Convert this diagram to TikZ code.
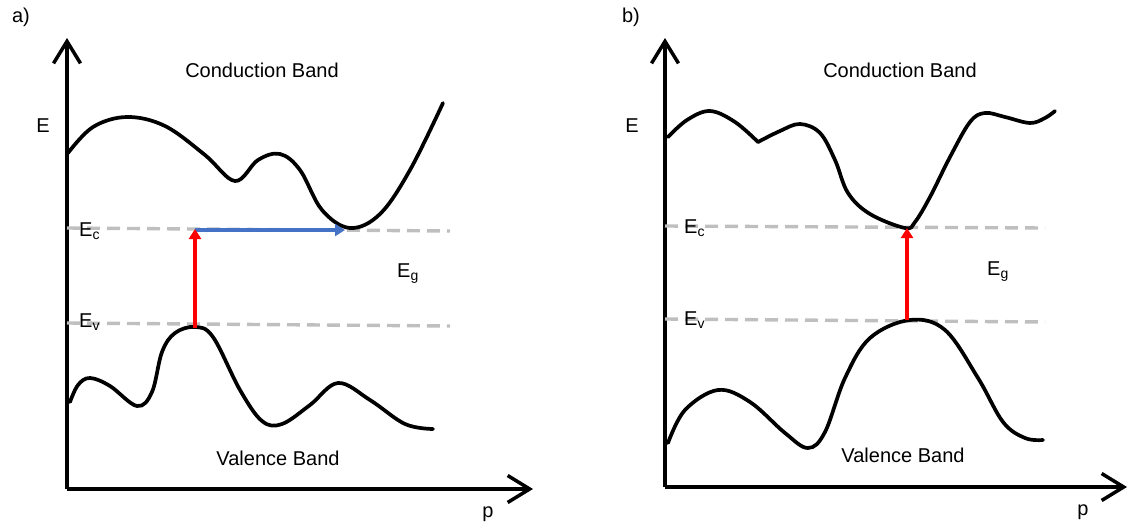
\documentclass[tikz,border=0pt]{standalone}
\usepackage{fontspec}
\setmainfont{Liberation Sans}
\usetikzlibrary{arrows.meta,positioning,calc}
\definecolor{bandblue}{RGB}{68,114,196}
\tikzset{
  axisarr/.style={-{Straight Barb[length=22pt,width=27pt]}, line width=3.5pt},
  bandline/.style={line width=3.7pt, line join=round, line cap=round},
  levelline/.style={draw=gray!50, line width=3.4pt, dash pattern=on 13pt off 7pt},
  gaparr/.style={-{Triangle[length=10pt,width=12pt]}, line width=3.6pt},
  lbl/.style={inner sep=0pt, font=\fontsize{20}{24}\selectfont},
}

\begin{document}
\begin{tikzpicture}[x=1pt, y=-1pt]
  \useasboundingbox (0,0) rectangle (1136,525);

  % panel a
  \coordinate (ao) at (67,489);
  \node[lbl] (alabel) at (21,17) {a)};
  \draw[axisarr] (ao) -- (67,38) coordinate (aetop);
  \draw[axisarr] (ao) -- (533,489) coordinate (aptip);
  \node[lbl] (aE) at (43,126) {E};
  \node[lbl] (ap) at (488,514) {p};
  \node[lbl] (acb) at (262,70) {Conduction Band};
  \node[lbl] (avb) at (278,458) {Valence Band};
  \draw[levelline] (67,228) coordinate (aecl) -- (450,231) coordinate (aecr);
  \draw[levelline] (67,323) coordinate (aevl) -- (450,326) coordinate (aevr);
  \node[lbl, anchor=west] (aEc) at (79,231) {E\textsubscript{c}};
  \node[lbl, anchor=west] (aEv) at (79,322) {E\textsubscript{v}};
  \node[lbl, anchor=west] (aEg) at (397,274) {E\textsubscript{g}};
  \draw[bandline] plot[smooth, tension=0.6] coordinates {
    (68,153) (93,127) (127,117) (165,126) (205,155) (235,181) (258,160)
    (280,154) (300,170) (322,210) (350,228) (380,214) (410,170) (443,103)};
  \draw[bandline] plot[smooth, tension=0.6] coordinates {
    (70,402) (78,385) (90,378) (110,386) (137,406) (152,392) (162,352)
    (175,333) (195,327) (213,337) (240,390) (262,421) (282,424) (310,405)
    (338,383) (370,400) (405,424) (433,429)};
  \coordinate (avtop) at (195,328);
  \coordinate (acbot) at (195,229);
  \coordinate (acmin) at (345,230);
  \draw[gaparr, bandblue] (195,230) -- (acmin);
  \draw[gaparr, red] (avtop) -- (acbot);

  % panel b
  \coordinate (bo) at (665,487);
  \node[lbl] (blabel) at (631,17) {b)};
  \draw[axisarr] (bo) -- (665,38) coordinate (betop);
  \draw[axisarr] (bo) -- (1127,487) coordinate (bptip);
  \node[lbl] (bE) at (632,126) {E};
  \node[lbl] (bp) at (1083,512) {p};
  \node[lbl] (bcb) at (900,70) {Conduction Band};
  \node[lbl] (bvb) at (903,455) {Valence Band};
  \draw[levelline] (665,226) coordinate (becl) -- (1045,228) coordinate (becr);
  \draw[levelline] (665,319) coordinate (bevl) -- (1045,322) coordinate (bevr);
  \node[lbl, anchor=west] (bEc) at (684,228) {E\textsubscript{c}};
  \node[lbl, anchor=west] (bEv) at (684,320) {E\textsubscript{v}};
  \node[lbl, anchor=west] (bEg) at (987,272) {E\textsubscript{g}};
  \draw[bandline] plot[smooth, tension=0.6] coordinates {
    (668,137) (687,120) (710,111) (735,122) (758,142)};
  \draw[bandline] plot[smooth, tension=0.6] coordinates {
    (758,142) (780,131) (800,124) (820,133) (835,160) (848,193) (870,214)
    (905,228) (915,222) (930,197) (950,157) (970,122) (985,113) (1005,117)
    (1030,123) (1045,118) (1055,111)};
  \draw[bandline] plot[smooth, tension=0.6] coordinates {
    (668,443) (685,410) (718,390) (750,402) (785,433) (808,448) (825,432)
    (845,378) (870,338) (910,320) (945,330) (978,378) (1003,422) (1025,438)
    (1043,440)};
  \coordinate (bvtop) at (907,320);
  \coordinate (bcbot) at (907,228);
  \draw[gaparr, red] (bvtop) -- (bcbot);
\end{tikzpicture}
\end{document}
